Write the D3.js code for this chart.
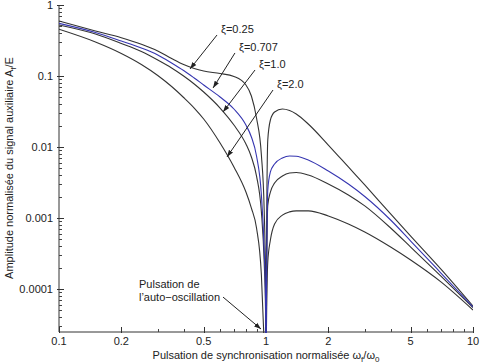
<!DOCTYPE html>
<html>
<head>
<meta charset="utf-8">
<script src="https://cdn.jsdelivr.net/npm/d3@7"></script>
<style>
  body { margin: 0; background: #fff; }
  text { font-family: "Liberation Sans", Arial, sans-serif; font-size: 11px; fill: #222; }
</style>
</head>
<body>
<div id="chart-area"></div>
<script>
// normalised pulsation (x) and amplitudes for each damping value
var omega = [0.1, 0.15, 0.2, 0.25, 0.3, 0.35, 0.4, 0.45, 0.5, 0.6, 0.7, 0.8, 0.85, 0.9, 0.95, 0.98, 0.995, 1.0,
             1.005, 1.02, 1.05, 1.1, 1.2, 1.3, 1.4, 1.6, 2, 2.5, 3, 4, 5, 7, 10];

var ampXi025 = [0.595, 0.43, 0.346, 0.2795, 0.225, 0.1764, 0.1452, 0.1275, 0.1176, 0.1084, 0.0984, 0.0747, 0.0523, 0.0256, 0.00772, 0.0013, 0.000134, 0.000001,
                0.000256, 0.01255, 0.024, 0.0311, 0.0343, 0.0327, 0.0292, 0.0211, 0.01067, 0.00523, 0.00292, 0.00114, 0.000557, 0.000191, 0.0000576];
var ampXi0707 = [0.552, 0.41, 0.311, 0.248, 0.1977, 0.1524, 0.1195, 0.0937, 0.0747, 0.0506, 0.0343, 0.0204, 0.01383, 0.00747, 0.00211, 0.000354, 0.00007, 0.000001,
                 0.00007, 0.00248, 0.00445, 0.00577, 0.007, 0.00747, 0.0074, 0.00656, 0.00459, 0.00301, 0.00201, 0.000937, 0.000474, 0.000168, 0.0000557];
var ampXi1 = [0.523, 0.39, 0.287, 0.2213, 0.168, 0.1297, 0.1, 0.0772, 0.0595, 0.0354, 0.0204, 0.01102, 0.00723, 0.0039, 0.00122, 0.00024, 0.0000506, 0.000001,
              0.0000506, 0.00152, 0.00232, 0.00311, 0.0039, 0.0043, 0.00437, 0.00403, 0.00301, 0.00211, 0.00148, 0.000723, 0.00039, 0.000152, 0.0000549];
var ampXi2 = [0.455, 0.301, 0.2075, 0.1452, 0.1016, 0.0711, 0.0498, 0.0354, 0.0248, 0.01138, 0.00523, 0.00232, 0.00138, 0.000723, 0.000157, 0.0000163, 0.000005, 0.000001,
              0.0000265, 0.00024, 0.00049, 0.000823, 0.0011, 0.00122, 0.00126, 0.00126, 0.00107, 0.000823, 0.000635, 0.00039, 0.000256, 0.000126, 0.0000506];

var xiNames = ["ξ=0.25", "ξ=0.707", "ξ=1.0", "ξ=2.0"];

// arrow tip / tail of each label, in data units
var arrowTips = [[0.4295, 0.1255], [0.555, 0.0678], [0.62, 0.0311], [0.648, 0.00723]];
var arrowTails = [[0.58, 0.378], [0.708, 0.211], [0.885, 0.1215], [1.081, 0.0635]];
var pulsTip = [0.946, 0.0000273];
var pulsTail = [0.62, 0.000077];

var xTickValues = [0.1, 0.2, 0.5, 1, 2, 5, 10];
var yTickValues = [1, 0.1, 0.01, 0.001, 0.0001];
var yTickText = ["1", "0.1", "0.01", "0.001", "0.0001"];

var margin = { top: 5, right: 9, bottom: 31, left: 59 },
    width = 482 - margin.left - margin.right,
    height = 363 - margin.top - margin.bottom;

var svg = d3.select("#chart-area").append("svg")
    .attr("width", 482)
    .attr("height", 363);

var g = svg.append("g")
    .attr("transform", "translate(" + margin.left + ", " + margin.top + ")");

var x = d3.scaleLog().domain([0.1, 10]).range([0, width]);
var y = d3.scaleLog().domain([2.48e-5, 1]).range([height, 0]);

svg.append("defs").append("clipPath").attr("id", "plot-clip")
  .append("rect").attr("width", width).attr("height", height + 1);

svg.select("defs").append("marker")
    .attr("id", "head")
    .attr("viewBox", "0 0 10 10")
    .attr("refX", 10).attr("refY", 5)
    .attr("markerWidth", 7).attr("markerHeight", 7)
    .attr("markerUnits", "userSpaceOnUse")
    .attr("orient", "auto")
  .append("path").attr("d", "M0,1.5L10,5L0,8.5Z").attr("fill", "#222");

// minor ticks
var xMinor = [], yMinor = [];
[0.1, 1].forEach(function (d) { for (var k = 2; k <= 9; k++) xMinor.push(d * k); });
[0.00001, 0.0001, 0.001, 0.01, 0.1].forEach(function (d) {
    for (var k = 2; k <= 9; k++) if (d * k >= 2.48e-5) yMinor.push(d * k);
});

// axes
g.append("line").attr("x1", 0).attr("x2", 0).attr("y1", 0).attr("y2", height)
    .attr("stroke", "#333");
g.append("line").attr("x1", 0).attr("x2", width).attr("y1", height).attr("y2", height)
    .attr("stroke", "#333");

g.selectAll(".ymin").data(yMinor).enter().append("line")
    .attr("x1", 0).attr("x2", 3)
    .attr("y1", (d) => Math.round(y(d)) + 0.5).attr("y2", (d) => Math.round(y(d)) + 0.5)
    .attr("stroke", "#444");
g.selectAll(".ymaj").data(yTickValues).enter().append("line")
    .attr("x1", -2).attr("x2", 5)
    .attr("y1", (d) => Math.round(y(d)) + 0.5).attr("y2", (d) => Math.round(y(d)) + 0.5)
    .attr("stroke", "#333");
g.selectAll(".ylab").data(yTickValues).enter().append("text")
    .attr("x", -6).attr("y", (d) => y(d) + 4)
    .attr("text-anchor", "end")
    .text((d, i) => yTickText[i]);

g.selectAll(".xmin").data(xMinor).enter().append("line")
    .attr("x1", (d) => Math.round(x(d)) + 0.5).attr("x2", (d) => Math.round(x(d)) + 0.5)
    .attr("y1", height).attr("y2", height - 3)
    .attr("stroke", "#444");
g.selectAll(".xmaj").data(xTickValues).enter().append("line")
    .attr("x1", (d) => Math.round(x(d)) + 0.5).attr("x2", (d) => Math.round(x(d)) + 0.5)
    .attr("y1", height + 1).attr("y2", height - 5)
    .attr("stroke", "#333");
g.selectAll(".xlab").data(xTickValues).enter().append("text")
    .attr("x", (d) => x(d)).attr("y", height + 13)
    .attr("text-anchor", "middle")
    .text((d) => String(d));

// curves
var series = [
    { values: ampXi025, color: "#333" },
    { values: ampXi1, color: "#333" },
    { values: ampXi2, color: "#333" },
    { values: ampXi0707, color: "#3535b0" }
];

var line = d3.line()
    .x((d) => x(d[0]))
    .y((d) => y(d[1]))
    .curve(d3.curveMonotoneX);

g.append("g").attr("clip-path", "url(#plot-clip)")
  .selectAll("path").data(series).enter().append("path")
    .attr("d", (s) => line(omega.map((o, i) => [o, s.values[i]])))
    .attr("fill", "none")
    .attr("stroke", (s) => s.color)
    .attr("stroke-width", 1.1);

// damping labels with arrows
xiNames.forEach(function (name, i) {
    var t0 = arrowTails[i], t1 = arrowTips[i];
    g.append("line")
        .attr("x1", x(t0[0])).attr("y1", y(t0[1]))
        .attr("x2", x(t1[0])).attr("y2", y(t1[1]))
        .attr("stroke", "#222").attr("stroke-width", 1)
        .attr("marker-end", "url(#head)");
    g.append("text")
        .attr("x", x(t0[0]) + 4).attr("y", y(t0[1]) - 2)
        .text(name);
});

g.append("line")
    .attr("x1", x(pulsTail[0])).attr("y1", y(pulsTail[1]))
    .attr("x2", x(pulsTip[0])).attr("y2", y(pulsTip[1]))
    .attr("stroke", "#222").attr("stroke-width", 1)
    .attr("marker-end", "url(#head)");
var p2 = g.append("text")
    .attr("x", x(pulsTail[0]) - 3).attr("y", y(pulsTail[1]) + 4)
    .attr("text-anchor", "end")
    .text("l’auto−oscillation");
var bb = p2.node().getBBox();
g.append("text")
    .attr("x", bb.x).attr("y", y(pulsTail[1]) - 9)
    .text("Pulsation de");

// axis titles
var xt = g.append("text")
    .attr("x", width / 2).attr("y", height + 27)
    .attr("text-anchor", "middle");
xt.append("tspan").text("Pulsation de synchronisation normalisée ω");
xt.append("tspan").attr("dy", 3).style("font-size", "8px").text("f");
xt.append("tspan").attr("dy", -3).text("/ω");
xt.append("tspan").attr("dy", 3).style("font-size", "8px").text("0");

var yt = svg.append("text")
    .attr("transform", "translate(13, 168) rotate(-90)")
    .attr("text-anchor", "middle");
yt.append("tspan").text("Amplitude normalisée du signal auxiliaire A");
yt.append("tspan").attr("dy", 3).style("font-size", "8px").text("f");
yt.append("tspan").attr("dy", -3).text("/E");
</script>
</body>
</html>
